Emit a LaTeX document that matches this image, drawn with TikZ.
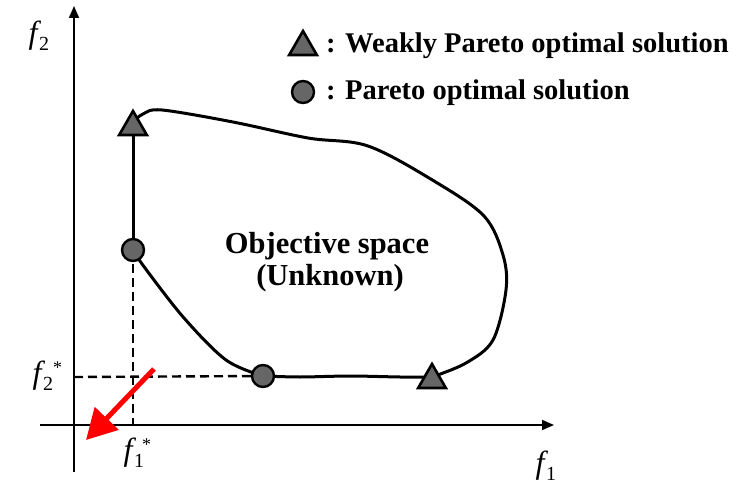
\documentclass[tikz,border=0pt]{standalone}
\usepackage{fontspec}
\setmainfont{Liberation Serif}
\usetikzlibrary{arrows.meta,shapes.geometric}
\definecolor{markgray}{HTML}{666666}
\begin{document}
\begin{tikzpicture}[x=1pt,y=-1pt,
  tri/.style={regular polygon,regular polygon sides=3,minimum size=32pt,inner sep=0pt,draw=black,line width=2.6pt,fill=markgray},
  dot/.style={circle,minimum size=22pt,inner sep=0pt,draw=black,line width=2.4pt,fill=markgray},
  axis/.style={line width=1.8pt,-{Triangle[length=12pt,width=10pt]}},
  bound/.style={line width=3pt,line join=round},
  guide/.style={line width=2.4pt,dash pattern=on 9pt off 5pt},
  lbl/.style={font=\bfseries\fontsize{28.5}{32}\selectfont,inner sep=0pt},
  clbl/.style={font=\bfseries\fontsize{30.5}{34}\selectfont,inner sep=0pt,anchor=base},
  fvar/.style={font=\itshape\fontsize{32}{36}\selectfont,inner sep=0pt,anchor=base},
  fsub/.style={font=\fontsize{20}{24}\selectfont,inner sep=0pt,anchor=base west},
  fstar/.style={font=\fontsize{18}{22}\selectfont,inner sep=0pt,anchor=base west}]
\useasboundingbox (0,0) rectangle (739,489);
% axes
\coordinate (yb) at (74,472);
\coordinate (yt) at (74,6);
\coordinate (xl) at (40,425);
\coordinate (xr) at (554,425);
\draw[axis] (yb) -- (yt);
\draw[axis] (xl) -- (xr);
% axis labels
\node[fvar] (f2) at (33,44) {f};
\node[fsub] (f2i) at (39,51) {2};
\node[fvar] (f1) at (540,473) {f};
\node[fsub] (f1i) at (546,480) {1};
\node[fvar] (f2s) at (37,383) {f};
\node[fsub] (f2si) at (43,390) {2};
\node[fstar] (f2ss) at (53,373) {*};
\node[fvar] (f1s) at (128,460) {f};
\node[fsub] (f1si) at (134,467) {1};
\node[fstar] (f1ss) at (142,450) {*};
% guides
\coordinate (gx) at (74,377);
\coordinate (gy) at (133,425);
% boundary points
\coordinate (A) at (133,122);
\coordinate (B) at (133,250);
\coordinate (C) at (263,376);
\coordinate (D) at (432,377);
\draw[guide] (B) -- (gy);
\draw[guide] (gx) -- (C);
\draw[bound] (A) -- (B);
\draw[bound] plot[smooth,tension=0.55] coordinates {(B) (145,268) (184,318) (226,360) (263,376)};
\draw[bound] plot[smooth,tension=0.5] coordinates {(C) (300,377) (350,376) (400,377) (D)};
\draw[bound] plot[smooth,tension=0.55] coordinates {(D) (466,363) (493,340) (506,290) (503,255) (484,216) (434,181) (368,146) (308,138) (233,122) (162,110) (143,114) (A)};
% markers
\node[tri] (tA) at (133,127) {};
\node[dot] (dB) at (133,250) {};
\node[dot] (dC) at (263,376) {};
\node[tri] (tD) at (432,380) {};
% central text
\node[clbl] (obj) at (327,254) {Objective space};
\node[clbl] (unk) at (330,285) {(Unknown)};
% legend
\node[tri] (lt) at (303,47) {};
\node[dot] (ld) at (303,92) {};
\node[lbl,anchor=base west] (lt1) at (326,53) {: Weakly Pareto optimal solution};
\node[lbl,anchor=base west] (lt2) at (326,100) {: Pareto optimal solution};
% red arrow
\coordinate (rs) at (154,369);
\coordinate (re) at (86,440);
\draw[red,line width=5pt,-{Triangle[length=30pt,width=32pt]}] (rs) -- (re);
\end{tikzpicture}
\end{document}
